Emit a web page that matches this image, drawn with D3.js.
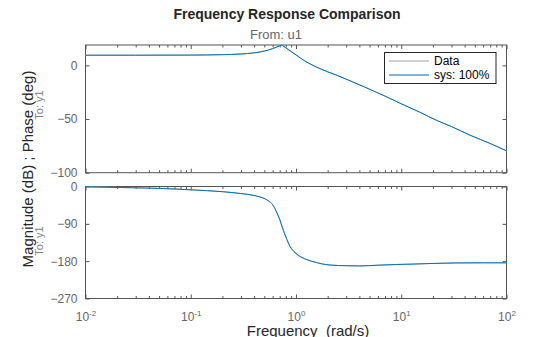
<!DOCTYPE html>
<html><head><meta charset="utf-8">
<script src="https://cdn.jsdelivr.net/npm/d3@7"></script>
<style>body{margin:0;background:#fff}svg{display:block;font-family:Arial,"Liberation Sans",sans-serif}</style>
</head><body><svg id="c" width="560" height="337"></svg>
<script>
// ---- data ----
const magFreq = [0.01, 0.03, 0.1, 0.2, 0.3, 0.4, 0.5, 0.6, 0.7, 0.73, 0.8, 0.9, 1.0, 1.1, 1.3, 1.7, 2.0, 2.5, 3.5, 5, 7, 10, 15, 22, 30, 45, 70, 100];
const magDb   = [9.5, 9.5, 9.6, 10.0, 10.6, 11.7, 13.3, 15.6, 18.2, 19.0, 16.4, 12.9, 9.8, 6.9, 2.4, -3.1, -6.0, -9.6, -15.6, -22.2, -28.6, -35.8, -43.6, -51.5, -57.0, -65.0, -72.8, -79.6];
const phaseFreq = [0.01, 0.028, 0.05, 0.1, 0.2, 0.3, 0.4, 0.5, 0.55, 0.6, 0.63, 0.66, 0.7, 0.74, 0.78, 0.82, 0.86, 0.9, 0.95, 1.0, 1.1, 1.2, 1.4, 1.6, 1.9, 2.15, 3, 4, 6.3, 9, 13, 20, 33, 60, 100];
const phaseDeg  = [-0.8, -3, -4.5, -8, -12.5, -17, -21.7, -29, -35, -44, -53, -64, -79, -98, -114, -128, -140, -149, -156, -161.5, -169, -174, -180, -184, -188, -189.5, -191, -191.5, -189.5, -188, -187, -185.5, -184.3, -184, -184];
const seriesNames = ["Data", "sys: 100%"];
const xMajorTicks = [0.01, 0.1, 1, 10, 100];
const xTickExp = ["-2", "-1", "0", "1", "2"];
const magTicks = [0, -50, -100];
const phaseTicks = [0, -90, -180, -270];

const svg = d3.select("#c");
const X0 = 85.5, X1 = 506.5;
const x = d3.scaleLog().domain([0.01, 100]).range([X0, X1]);
const yMag = d3.scaleLinear().domain([-100, 19]).range([172.7, 45]);
const yPh = d3.scaleLinear().domain([-270, 0]).range([298.5, 186.5]);
const axisCol = "#555", labCol = "#666";

const minorTicks = [];
[0.01, 0.1, 1, 10].forEach(d => { for (let k = 2; k <= 9; k++) minorTicks.push(d * k); });

function panel(y, yt, showXLabels) {
  const [yb, ytp] = y.range();
  const g = svg.append("g");
  const mk = (ax, tr) => {
    const a = g.append("g").attr("transform", tr).call(ax);
    a.select(".domain").remove();
    a.selectAll("line").attr("stroke", axisCol);
    a.selectAll("text").attr("fill", labCol).style("font-size", "12px").style("font-family", "Arial,'Liberation Sans',sans-serif");
    return a;
  };
  mk(d3.axisLeft(y).tickValues(yt).tickSizeInner(-4).tickSizeOuter(0).tickPadding(8).tickFormat(d3.format("d")), `translate(${X0},0)`);
  mk(d3.axisRight(y).tickValues(yt).tickSizeInner(-4).tickSizeOuter(0).tickFormat(""), `translate(${X1},0)`);
  const bx = mk(d3.axisBottom(x).tickValues(xMajorTicks).tickSizeInner(-4).tickSizeOuter(0).tickFormat(""), `translate(0,${yb})`);
  mk(d3.axisBottom(x).tickValues(minorTicks).tickSizeInner(-2.5).tickSizeOuter(0).tickFormat(""), `translate(0,${yb})`);
  mk(d3.axisTop(x).tickValues(xMajorTicks).tickSizeInner(-4).tickSizeOuter(0).tickFormat(""), `translate(0,${ytp})`);
  mk(d3.axisTop(x).tickValues(minorTicks).tickSizeInner(-2.5).tickSizeOuter(0).tickFormat(""), `translate(0,${ytp})`);
  if (showXLabels) {
    bx.selectAll(".tick text").each(function(d, i) {
      const t = d3.select(this).text(null).attr("y", 22).attr("dy", null).attr("text-anchor", "middle");
      t.append("tspan").text("10");
      t.append("tspan").attr("dy", -5).style("font-size", "8px").text(xTickExp[i]);
    });
  }
  g.append("rect").attr("x", X0).attr("y", ytp).attr("width", X1 - X0).attr("height", yb - ytp)
    .attr("fill", "none").attr("stroke", axisCol).attr("stroke-width", 1);
  return g;
}

panel(yMag, magTicks, false);
panel(yPh, phaseTicks, true);

// curves: magnitude split at its peak so the sampled peak keeps its corner
const pk = magDb.indexOf(d3.max(magDb));
const magLine = d3.line().x(i => x(magFreq[i])).y(i => yMag(magDb[i])).curve(d3.curveMonotoneX);
const phLine = d3.line().x(i => x(phaseFreq[i])).y(i => yPh(phaseDeg[i])).curve(d3.curveMonotoneX);
const idxA = d3.range(0, pk + 1), idxB = d3.range(pk, magDb.length), idxP = d3.range(phaseDeg.length);
const cols = ["#b0b0b0", "#0072BD"];
cols.forEach(c => {
  [idxA, idxB].forEach(ix => svg.append("path").attr("d", magLine(ix)).attr("fill", "none").attr("stroke", c).attr("stroke-width", 1));
  svg.append("path").attr("d", phLine(idxP)).attr("fill", "none").attr("stroke", c).attr("stroke-width", 1);
});

// legend
const lg = svg.append("g");
lg.append("rect").attr("x", 384.5).attr("y", 52.5).attr("width", 111.5).attr("height", 31)
  .attr("fill", "#fff").attr("stroke", "#262626").attr("stroke-width", 1);
const legCols = ["#c0c0c0", "#80b3e0"];
seriesNames.forEach((n, i) => {
  const yy = 61 + i * 14;
  lg.append("line").attr("x1", 389).attr("x2", 429).attr("y1", yy).attr("y2", yy).attr("stroke", legCols[i]).attr("stroke-width", i ? 2 : 1.5);
  lg.append("text").attr("x", 434).attr("y", yy + 4.3).style("font-size", "12px").attr("fill", "#000").text(n);
});

// texts
svg.append("text").attr("x", 287).attr("y", 19).attr("text-anchor", "middle").style("font-size", "14px").style("font-weight", "bold").attr("fill", "#262626").text("Frequency Response Comparison");
svg.append("text").attr("x", 276).attr("y", 39).attr("text-anchor", "middle").style("font-size", "13px").attr("fill", labCol).text("From: u1");
svg.append("text").attr("x", 308).attr("y", 336).attr("text-anchor", "middle").style("font-size", "15px").attr("fill", "#262626").text("Frequency\u00a0 (rad/s)");
svg.append("text").attr("transform", "translate(33,169) rotate(-90)").attr("text-anchor", "middle").style("font-size", "15px").attr("fill", "#262626").text("Magnitude (dB) ; Phase (deg)");
[105, 241].forEach(cy => {
  svg.append("text").attr("transform", `translate(43,${cy}) rotate(-90)`).attr("text-anchor", "middle").style("font-size", "11px").attr("fill", "#808080").text("To: y1");
});
</script></body></html>
